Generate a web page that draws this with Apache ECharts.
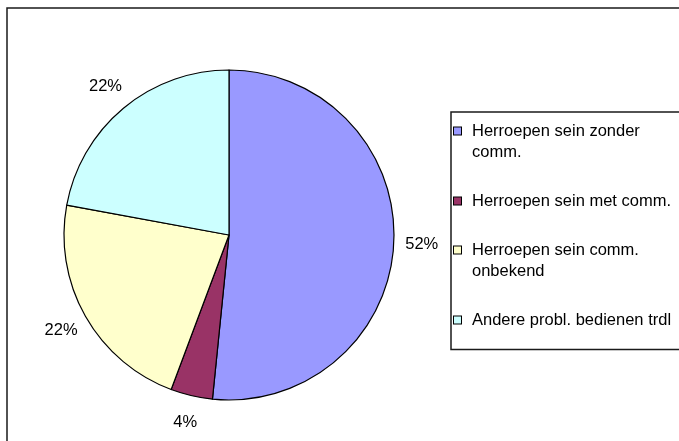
<!DOCTYPE html>
<html>
<head>
<meta charset="utf-8">
<script src="https://cdn.jsdelivr.net/npm/echarts@6/dist/echarts.min.js"></script>
<style>
  html, body { margin: 0; padding: 0; background: #ffffff; }
  #chart { width: 679px; height: 441px; }
</style>
</head>
<body>
<div id="chart"></div>
<script>
// ---- data ----
const categories = [
  'Herroepen sein zonder comm.',
  'Herroepen sein met comm.',
  'Herroepen sein comm. onbekend',
  'Andere probl. bedienen trdl'
];
const shares = [51.6, 4.1, 22.2, 22.1];
const legendLines = [
  ['Herroepen sein zonder', 'comm.'],
  ['Herroepen sein met comm.'],
  ['Herroepen sein comm.', 'onbekend'],
  ['Andere probl. bedienen trdl']
];
const colors = ['#9999FF', '#993366', '#FFFFCC', '#CCFFFF'];

const FONT = '"Liberation Sans", Arial, sans-serif';
const pieData = categories.map((n, i) => ({ name: n, value: shares[i] }));

const rich = {
  t: { fontSize: 16.5, fontFamily: FONT, color: '#000', lineHeight: 21, padding: [0, 0, 0, 11] },
  sp: { width: 7, height: 7, lineHeight: 21 }
};
colors.forEach((c, i) => {
  rich['m' + i] = { width: 7, height: 7, lineHeight: 21, backgroundColor: c, borderColor: '#000', borderWidth: 1 };
});

const chart = echarts.init(document.getElementById('chart'), null, { renderer: 'canvas' });
chart.setOption({
  backgroundColor: '#ffffff',
  animation: false,
  color: colors,
  graphic: [{
    type: 'rect',
    shape: { x: 7, y: 8, width: 900, height: 700 },
    style: { fill: 'none', stroke: '#1a1a1a', lineWidth: 1.5 },
    silent: true,
    z: -10
  }],
  legend: {
    orient: 'vertical',
    left: 451,
    top: 112,
    icon: 'none',
    itemWidth: 0,
    itemHeight: 0,
    itemGap: 32,
    padding: [10.5, 60, 21, -2],
    borderColor: '#1a1a1a',
    borderWidth: 1.5,
    selectedMode: false,
    data: categories,
    formatter: function (name) {
      const i = categories.indexOf(name);
      return legendLines[i].map((l, j) => (j === 0 ? '{m' + i + '|}' : '{sp|}') + '{t|' + l + '}').join('\n');
    },
    textStyle: { rich: rich, fontFamily: FONT, fontSize: 16.5, color: '#000' }
  },
  series: [
    {
      type: 'pie',
      center: [229, 235],
      radius: 165,
      startAngle: 90,
      clockwise: true,
      avoidLabelOverlap: false,
      silent: true,
      label: { show: false },
      labelLine: { show: false },
      itemStyle: { borderColor: '#000', borderWidth: 1.2 },
      data: pieData
    },
    {
      type: 'pie',
      center: [229, 235],
      radius: [178, 202],
      startAngle: 90,
      clockwise: true,
      avoidLabelOverlap: false,
      silent: true,
      percentPrecision: 0,
      itemStyle: { color: 'rgba(0,0,0,0)', borderWidth: 0 },
      label: {
        show: true,
        position: 'inside',
        formatter: '{d}%',
        color: '#000',
        fontSize: 16.5,
        fontFamily: FONT,
        overflow: 'none'
      },
      labelLine: { show: false },
      data: pieData
    }
  ]
});
</script>
</body>
</html>
